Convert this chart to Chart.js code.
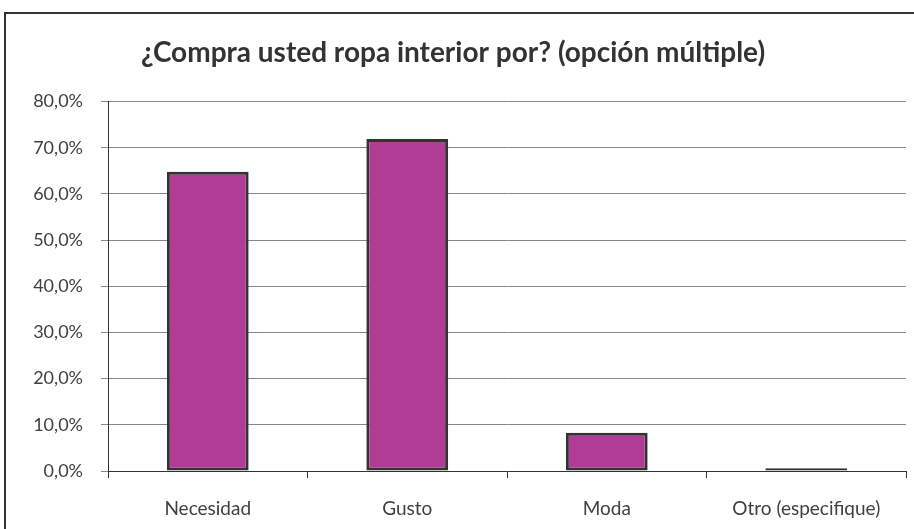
<!DOCTYPE html>
<html>
<head>
<meta charset="utf-8">
<script src="https://cdn.jsdelivr.net/npm/chart.js@4/dist/chart.umd.min.js"></script>
<style>
  html, body { margin: 0; padding: 0; background: #ffffff; overflow: hidden; }
  #wrap { position: relative; width: 914px; height: 529px; overflow: hidden; }
  #frame {
    position: absolute; left: 4px; top: 12px; width: 1000px; height: 1000px;
    border: 2px solid #333333; box-sizing: border-box; pointer-events: none;
  }
  canvas { position: absolute; left: 0; top: 0; }
</style>
</head>
<body>
<div id="wrap">
  <canvas id="c" width="914" height="529"></canvas>
  <div id="frame"></div>
</div>
<script>
// Survey answers: share of respondents per reason (percent)
const categories = ['Necesidad', 'Gusto', 'Moda', 'Otro (especifique)'];
const percentages = [64.8, 71.9, 8.3, 0.6];
const yTicks = [0, 10, 20, 30, 40, 50, 60, 70, 80];
const chartTitle = '¿Compra usted ropa interior por? (opción múltiple)';

const textColor = '#404040';
const fontFamily = 'Lato, "Open Sans", sans-serif';

new Chart(document.getElementById('c'), {
  type: 'bar',
  data: {
    labels: categories,
    datasets: [{
      data: percentages,
      backgroundColor: '#b03c96',
      borderColor: '#333333',
      borderWidth: 3,
      borderSkipped: false,
      categoryPercentage: 1,
      barPercentage: 0.41
    }]
  },
  options: {
    responsive: false,
    devicePixelRatio: 1,
    animation: false,
    layout: { padding: { left: 0, right: 8, top: 0, bottom: 0 } },
    plugins: {
      legend: { display: false },
      tooltip: { enabled: false },
      title: {
        display: true,
        text: chartTitle,
        color: '#333333',
        font: { family: fontFamily, size: 28, weight: 'bold', lineHeight: 1.2 },
        padding: { top: 36, bottom: 32 }
      }
    },
    scales: {
      x: {
        grid: {
          drawOnChartArea: false,
          drawTicks: true,
          tickLength: 7,
          color: '#333333',
          offset: true
        },
        border: { display: true, color: '#333333', width: 1 },
        ticks: {
          color: textColor,
          padding: 19,
          font: { family: fontFamily, size: 19 },
          maxRotation: 0
        },
        afterFit: (s) => { s.height = 58; }
      },
      y: {
        min: 0,
        max: 80,
        afterBuildTicks: (s) => { s.ticks = yTicks.map(v => ({ value: v })); },
        grid: {
          color: '#878787',
          tickLength: 7,
          drawTicks: true
        },
        border: { display: true, color: '#333333', width: 1 },
        ticks: {
          color: textColor,
          padding: 18,
          font: { family: fontFamily, size: 18 },
          callback: (v) => v.toFixed(1).replace('.', ',') + '%'
        },
        afterFit: (s) => { s.width = 108; }
      }
    }
  }
});
</script>
</body>
</html>
